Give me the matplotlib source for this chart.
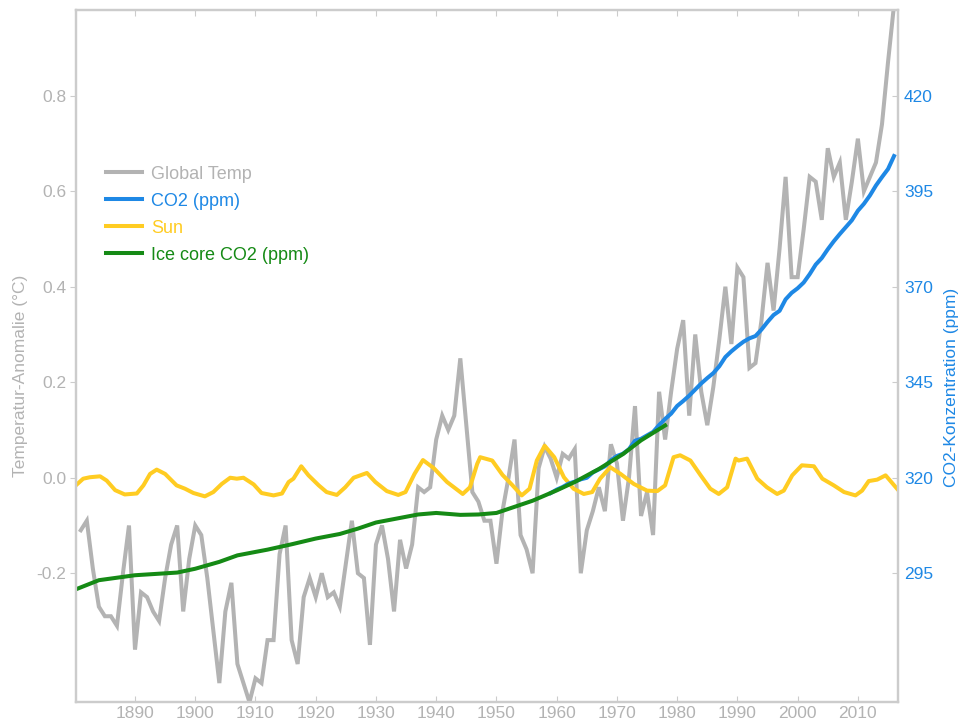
import numpy as np
import matplotlib
matplotlib.use('Agg')
from matplotlib import pyplot as plt

# global temperature anomaly (degC), annual
temp_years = list(range(1881, 2017))
temp_vals = [
    -0.11, -0.09, -0.19, -0.27, -0.29, -0.29, -0.31, -0.20, -0.10, -0.36,   # 1881-1890
    -0.24, -0.25, -0.28, -0.30, -0.21, -0.14, -0.10, -0.28, -0.17, -0.10,   # 1891-1900
    -0.12, -0.21, -0.32, -0.43, -0.28, -0.22, -0.39, -0.43, -0.47, -0.42,   # 1901-1910
    -0.43, -0.34, -0.34, -0.16, -0.10, -0.34, -0.39, -0.25, -0.21, -0.25,   # 1911-1920
    -0.20, -0.25, -0.24, -0.27, -0.18, -0.09, -0.20, -0.21, -0.35, -0.14,   # 1921-1930
    -0.10, -0.17, -0.28, -0.13, -0.19, -0.14, -0.02, -0.03, -0.02, 0.08,    # 1931-1940
    0.13, 0.10, 0.13, 0.25, 0.11, -0.03, -0.05, -0.09, -0.09, -0.18,        # 1941-1950
    -0.07, 0.00, 0.08, -0.12, -0.15, -0.20, 0.02, 0.065, 0.04, 0.00,        # 1951-1960
    0.05, 0.04, 0.06, -0.20, -0.11, -0.07, -0.02, -0.07, 0.07, 0.03,        # 1961-1970
    -0.09, 0.00, 0.15, -0.08, -0.03, -0.12, 0.18, 0.08, 0.18, 0.27,         # 1971-1980
    0.33, 0.13, 0.30, 0.18, 0.11, 0.19, 0.29, 0.40, 0.28, 0.44,             # 1981-1990
    0.42, 0.23, 0.24, 0.33, 0.45, 0.35, 0.48, 0.63, 0.42, 0.42,             # 1991-2000
    0.52, 0.63, 0.62, 0.54, 0.69, 0.63, 0.66, 0.54, 0.62, 0.71,             # 2001-2010
    0.60, 0.63, 0.66, 0.74, 0.87, 0.99,                                     # 2011-2016
]

# Mauna Loa CO2 (ppm)
co2_years = list(range(1959, 2017))
co2_vals = [
    316.0, 316.9, 317.6, 318.5, 319.0, 319.6, 320.0, 321.4, 322.2, 323.0,
    324.6, 325.7, 326.3, 327.5, 329.7, 330.2, 331.1, 332.0, 333.8, 335.4,
    336.8, 338.8, 340.1, 341.5, 343.1, 344.7, 346.1, 347.4, 349.2, 351.6,
    353.1, 354.4, 355.6, 356.5, 357.1, 358.8, 360.8, 362.6, 363.7, 366.7,
    368.4, 369.6, 371.1, 373.3, 375.8, 377.5, 379.8, 381.9, 383.8, 385.6,
    387.4, 389.9, 391.7, 393.9, 396.5, 398.7, 400.8, 404.2,
]

# ice core CO2 (ppm)
ice_years = [1880, 1884, 1890, 1897, 1900, 1904, 1907, 1912, 1916, 1920,
             1924, 1927, 1930, 1934, 1937, 1940, 1944, 1947, 1950, 1953,
             1956, 1960, 1963, 1967, 1971, 1974, 1978]
ice_vals = [290.7, 293.2, 294.5, 295.2, 296.2, 298.0, 299.7, 301.2, 302.6, 304.1,
            305.3, 306.7, 308.3, 309.5, 310.4, 310.8, 310.3, 310.4, 310.8, 312.4,
            314.0, 316.7, 318.9, 322.3, 326.2, 329.8, 333.7]

# solar activity, scaled onto the temperature axis
sun_years = [1880.0, 1881.4, 1882.5, 1884.2, 1885.3, 1886.7, 1888.3, 1890.3, 1891.4, 1892.5,
             1893.6, 1895.0, 1896.9, 1898.3, 1899.7, 1901.6, 1903.0, 1904.4, 1905.8, 1906.9,
             1908.0, 1909.7, 1911.0, 1913.0, 1914.4, 1915.5, 1916.3, 1917.6, 1918.8, 1920.5,
             1921.8, 1923.5, 1924.9, 1926.3, 1927.4, 1928.5, 1929.9, 1931.8, 1933.7, 1934.9,
             1936.4, 1937.8, 1939.6, 1941.8, 1944.4, 1945.6, 1946.8, 1947.3, 1949.3, 1951.0,
             1952.6, 1954.2, 1955.5, 1956.7, 1958.0, 1959.6, 1961.2, 1962.8, 1964.5, 1965.9,
             1967.2, 1968.9, 1970.6, 1972.8, 1975.0, 1976.7, 1978.0, 1979.4, 1980.5, 1982.2,
             1983.9, 1985.5, 1986.9, 1988.3, 1989.7, 1990.2, 1991.6, 1993.3, 1994.9, 1996.6,
             1997.7, 1999.1, 2000.7, 2002.7, 2004.1, 2006.0, 2007.7, 2009.6, 2010.7, 2011.8,
             2013.2, 2014.6, 2016.5]
sun_vals = [-0.018, -0.002, 0.001, 0.003, -0.006, -0.026, -0.035, -0.033, -0.016, 0.008,
            0.017, 0.008, -0.016, -0.023, -0.032, -0.039, -0.030, -0.013, 0.000, -0.002,
            0.000, -0.014, -0.032, -0.037, -0.033, -0.009, -0.002, 0.024, 0.005, -0.016,
            -0.030, -0.036, -0.020, 0.000, 0.005, 0.010, -0.009, -0.028, -0.036, -0.030,
            0.008, 0.037, 0.020, -0.009, -0.034, -0.020, 0.029, 0.043, 0.036, 0.006,
            -0.015, -0.037, -0.023, 0.036, 0.067, 0.043, 0.001, -0.023, -0.034, -0.030,
            -0.002, 0.022, 0.008, -0.013, -0.027, -0.028, -0.016, 0.043, 0.047, 0.036,
            0.005, -0.023, -0.034, -0.020, 0.040, 0.036, 0.040, -0.002, -0.020, -0.034,
            -0.027, 0.005, 0.026, 0.024, -0.002, -0.016, -0.030, -0.037, -0.027, -0.007,
            -0.004, 0.005, -0.023]

x_ticks = [1890, 1900, 1910, 1920, 1930, 1940, 1950, 1960, 1970, 1980, 1990, 2000, 2010]
temp_ticks = [-0.2, 0.0, 0.2, 0.4, 0.6, 0.8]
co2_ticks = [295, 320, 345, 370, 395, 420]

GREY = '#b3b3b3'
BLUE = '#1e88e5'
YELLOW = '#ffcc22'
GREEN = '#158a15'
SPINE = '#cccccc'

plt.rcParams['font.family'] = ['Liberation Sans', 'DejaVu Sans']


def main():
    fig = plt.figure(figsize=(9.58, 7.2), dpi=100)
    ax = fig.add_axes([0.0793, 0.0254, 0.8577, 0.9611])
    ax2 = ax.twinx()

    l_temp, = ax.plot(temp_years, temp_vals, color=GREY, lw=2.9, label='Global Temp',
                      solid_joinstyle='miter')
    l_sun, = ax.plot(sun_years, sun_vals, color=YELLOW, lw=2.9, label='Sun')
    l_co2, = ax2.plot(co2_years, co2_vals, color=BLUE, lw=2.9, label='CO2 (ppm)')
    l_ice, = ax2.plot(ice_years, ice_vals, color=GREEN, lw=2.9, label='Ice core CO2 (ppm)')

    ax.set_xlim(1880.2, 2016.6)
    ax.set_ylim(-0.469, 0.98)
    ax2.set_ylim(261.4, 442.5)

    ax.set_xticks(x_ticks)
    ax.set_yticks(temp_ticks)
    ax.set_yticklabels([f'{t:.1f}' for t in temp_ticks])
    ax2.set_yticks(co2_ticks)

    for a in (ax, ax2):
        for s in a.spines.values():
            s.set_color(SPINE)
            s.set_linewidth(1.6)
    ax.tick_params(axis='x', direction='in', top=True, bottom=True, length=4,
                   color=SPINE, labelcolor=GREY, labelsize=12.5, pad=3)
    ax.tick_params(axis='y', direction='out', length=4, color=SPINE,
                   labelcolor=GREY, labelsize=12.5, pad=3)
    ax2.tick_params(axis='y', direction='in', length=4, color=SPINE,
                    labelcolor=BLUE, labelsize=12.5, pad=4.5)

    ax.set_ylabel('Temperatur-Anomalie (°C)', color=GREY, fontsize=12.5)
    ax.yaxis.set_label_coords(-0.058, 0.471)
    ax2.set_ylabel('CO2-Konzentration (ppm)', color=BLUE, fontsize=12.5)
    ax2.yaxis.set_label_coords(1.056, 0.454)

    handles = [l_temp, l_co2, l_sun, l_ice]
    leg = ax2.legend(handles=handles, loc='upper left', bbox_to_anchor=(0.017, 0.798),
                     frameon=False, fontsize=13, handlelength=2.0, handletextpad=0.5,
                     labelspacing=0.55)
    for txt, h in zip(leg.get_texts(), handles):
        txt.set_color(h.get_color())

    fig.savefig('out.png', dpi=100)


if __name__ == '__main__':
    main()
